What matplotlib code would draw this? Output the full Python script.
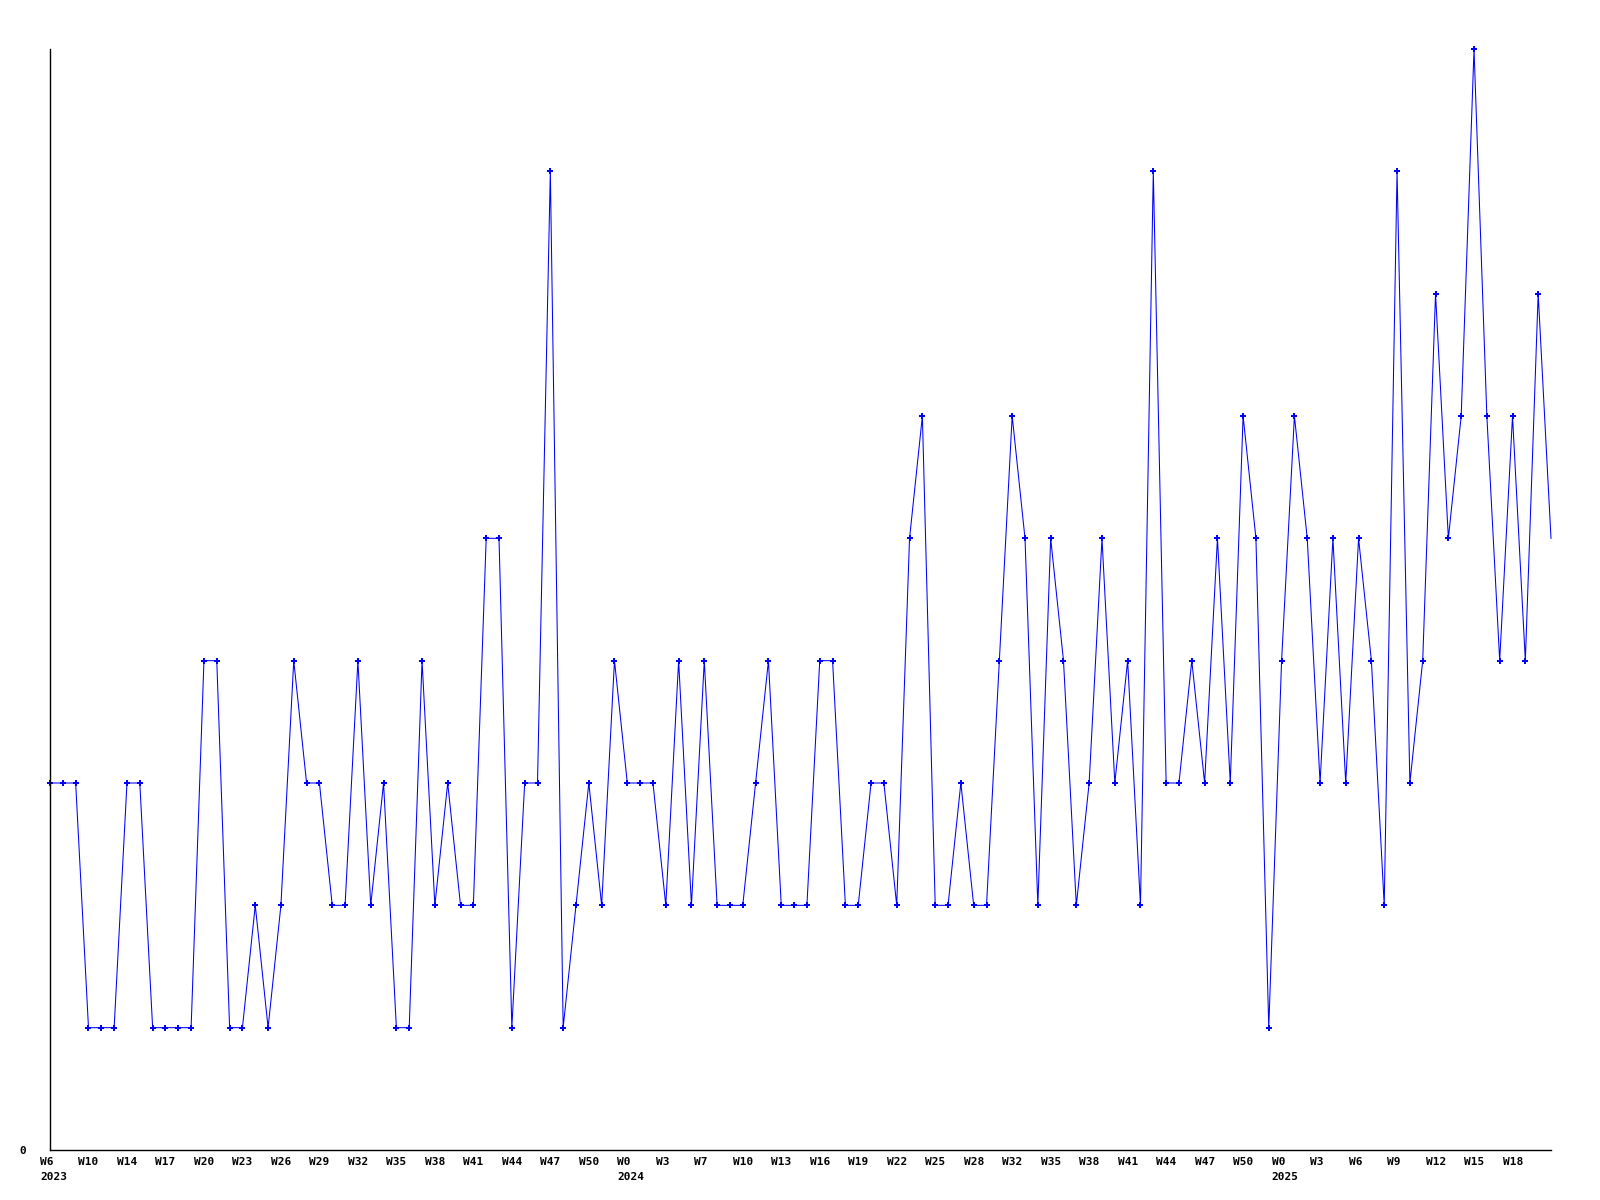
import matplotlib
matplotlib.use("Agg")
import matplotlib.pyplot as plt
from matplotlib.transforms import offset_copy

# weekly counts, one point per week
values = [3, 3, 3, 1, 1, 1, 3, 3, 1, 1, 1, 1, 4, 4, 1, 1, 2, 1, 2, 4,
          3, 3, 2, 2, 4, 2, 3, 1, 1, 4, 2, 3, 2, 2, 5, 5, 1, 3, 3, 8,
          1, 2, 3, 2, 4, 3, 3, 3, 2, 4, 2, 4, 2, 2, 2, 3, 4, 2, 2, 2,
          4, 4, 2, 2, 3, 3, 2, 5, 6, 2, 2, 3, 2, 2, 4, 6, 5, 2, 5, 4,
          2, 3, 5, 3, 4, 2, 8, 3, 3, 4, 3, 5, 3, 6, 5, 1, 4, 6, 5, 3,
          5, 3, 5, 4, 2, 8, 3, 4, 7, 5, 6, 9, 6, 4, 6, 4, 7, 5]

week_labels = ['W6', 'W10', 'W14', 'W17', 'W20', 'W23', 'W26', 'W29', 'W32', 'W35',
               'W38', 'W41', 'W44', 'W47', 'W50', 'W0', 'W3', 'W7', 'W10', 'W13',
               'W16', 'W19', 'W22', 'W25', 'W28', 'W32', 'W35', 'W38', 'W41', 'W44',
               'W47', 'W50', 'W0', 'W3', 'W6', 'W9', 'W12', 'W15', 'W18']
label_step = 3
year_labels = {0: '2023', 45: '2024', 96: '2025'}

x = list(range(len(values)))

fig = plt.figure(figsize=(16, 12), dpi=100)
ax = fig.add_axes([50 / 1600, 50 / 1200, 1501 / 1600, 1101 / 1200])

ax.plot(x, values, color='#0000ff', linewidth=0.75, marker='P', markersize=4,
        markeredgewidth=0, markevery=list(range(len(values) - 1)), clip_on=False)

ax.set_xlim(0, len(values) - 1)
ax.set_ylim(0, 9)

for s in ['top', 'right']:
    ax.spines[s].set_visible(False)
for s in ['left', 'bottom']:
    ax.spines[s].set_linewidth(1)
    ax.spines[s].set_color('black')

ax.set_xticks([])
ax.set_yticks([0])
ax.set_yticklabels(['0'], family='DejaVu Sans Mono', weight='bold', fontsize=8)
ax.tick_params(axis='y', length=0, pad=17)

font = dict(family='DejaVu Sans Mono', weight='bold', fontsize=8)
wk_tr = offset_copy(ax.get_xaxis_transform(), fig=fig, x=-10, y=-12, units='dots')
yr_tr = offset_copy(ax.get_xaxis_transform(), fig=fig, x=-10, y=-27, units='dots')
for k, lab in enumerate(week_labels):
    ax.text(k * label_step, 0, lab, transform=wk_tr, ha='left', va='center', **font)
for pos, yr in year_labels.items():
    ax.text(pos, 0, yr, transform=yr_tr, ha='left', va='center', **font)

fig.savefig('out.png', dpi=100)
